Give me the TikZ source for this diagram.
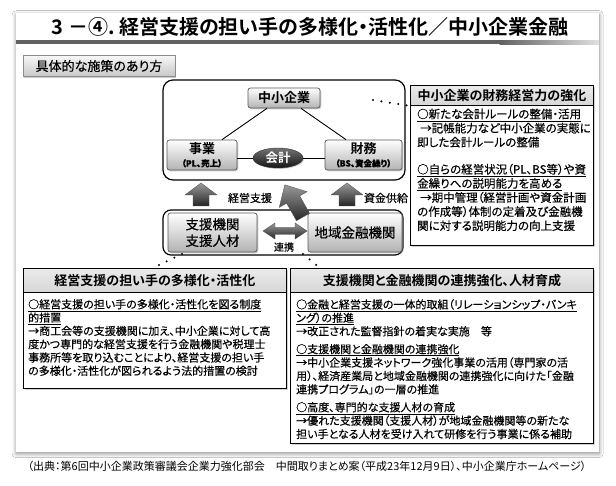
\documentclass[tikz,border=0pt]{standalone}
\usepackage{fontspec}
\setmainfont{Noto Sans CJK JP}[BoldFont={* Bold}, RawFeature=+palt]
\newfontfamily\medfont{Noto Sans CJK JP}[RawFeature=+palt, FakeBold=0.35]
\usetikzlibrary{shadows,shadows.blur,calc,shapes.geometric}
\tikzset{
  panel/.style={fill=white, draw=none, blur shadow={shadow blur steps=8, shadow xshift=0pt, shadow yshift=-1.5pt, shadow blur radius=4pt, shadow opacity=45}},
  gbox/.style={draw=black!65, line width=0.7pt, rounded corners=2.5pt, top color=white, bottom color=black!30, inner sep=1pt, drop shadow={shadow xshift=1.3pt, shadow yshift=-1.3pt, opacity=0.4}},
  rbox/.style={draw=black, line width=1.2pt, rounded corners=10pt, fill=white},
  tframe/.style={draw=black, line width=0.9pt, fill=white, anchor=north west, drop shadow={shadow xshift=1.2pt, shadow yshift=-1.2pt, opacity=0.35}},
  thdr/.style={draw=black, line width=0.9pt, top color=black!8, bottom color=black!16, anchor=north west, font=\fontsize{13}{15}\selectfont\bfseries},
  tbody/.style={anchor=north west, align=left, inner sep=0pt},
  arrowfill/.style={top color=black!40, bottom color=black!85, draw=black!70, line width=0.3pt},
  dotline/.style={line width=2.3pt, line cap=round, dash pattern=on 0pt off 8.5pt},
  lbl/.style={font=\fontsize{11}{13}\medfont},
}
\begin{document}
\begin{tikzpicture}[x=1pt,y=-1pt]
\useasboundingbox (0,0) rectangle (616,486);
\fill[white] (0,0) rectangle (616,486);
% panel
\node[panel, minimum width=583, minimum height=439, anchor=north west, inner sep=0] (panel) at (16,13) {};
% title
\node[font=\fontsize{20}{24}\selectfont\bfseries] (title) at (310,27) {3 －④.\ 経営支援の担い手の多様化・活性化／中小企業金融};
\fill[black!62] (16,40.5) rectangle (500,44.5);
\shade[left color=black!62, right color=black!12] (499.5,40.5) rectangle (599,44.5);
% label box
\node[gbox, rounded corners=0pt, draw=black!45, top color=black!3, bottom color=black!22, minimum width=152, minimum height=21, font=\fontsize{13}{15}\medfont] (gutai) at (99,66) {具体的な施策のあり方};
% central box
\node[rbox, minimum width=242, minimum height=100] (cbox) at (284,130) {};
\node[gbox, minimum width=72, minimum height=20, font=\fontsize{13}{15}\selectfont\bfseries] (zk) at (284,98) {中小企業};
\node[gbox, minimum width=70, minimum height=30, align=center, font=\fontsize{13}{14}\selectfont\bfseries] (jg) at (202,155) {事業\\[-1pt]{\fontsize{8.5}{10}\medfont （PL、売上）}};
\node[gbox, minimum width=77, minimum height=30, align=center, font=\fontsize{13}{14}\selectfont\bfseries] (zm) at (363.5,155) {財務\\[-1pt]{\fontsize{8.5}{10}\medfont （BS、資金繰り）}};
\node[ellipse, minimum width=50, minimum height=20, inner sep=0pt, top color=black!55, bottom color=black!92, draw=black!80, text=white, font=\fontsize{12.5}{14}\selectfont\bfseries, drop shadow={shadow xshift=1pt, shadow yshift=-1pt, opacity=0.35}] (kk) at (278,158) {会計};
\draw[line width=0.9pt] ([xshift=-17pt]zk.south) -- ([xshift=20pt]jg.north);
\draw[line width=0.9pt] ([xshift=17pt]zk.south) -- ([xshift=-17.5pt]zm.north);
\draw[line width=0.9pt] (jg.east |- kk.center) -- (kk.west);
\draw[line width=0.9pt] (kk.east) -- (zm.west |- kk.center);
% lower box
\node[rbox, rounded corners=8pt, minimum width=240, minimum height=45] (lowbox) at (283,232.5) {};
% diagonal arrow
\begin{scope}[shift={(303,217)}, rotate=119.4]
\path[arrowfill] (0,-7.5) -- (20,-7.5) -- (20,-16) -- (37,0) -- (20,16) -- (20,7.5) -- (0,7.5) -- cycle;
\end{scope}
\node[gbox, minimum width=89, minimum height=39, align=center, font=\fontsize{13.5}{16.5}\medfont] (sk) at (212.5,232.5) {支援機関\\支援人材};
\node[gbox, minimum width=94, minimum height=39, font=\fontsize{13.5}{16}\medfont] (cf) at (355,232.5) {地域金融機関};
% up arrows
\path[arrowfill] (193,206) -- (193,195) -- (185,195) -- (201,183) -- (217,195) -- (209,195) -- (209,206) -- cycle;
\path[arrowfill] (339,206) -- (339,195) -- (331,195) -- (347,183) -- (363,195) -- (355,195) -- (355,206) -- cycle;
% double arrow
\path[arrowfill] (263,231) -- (275,223) -- (275,227.5) -- (295,227.5) -- (295,223) -- (307,231) -- (295,239) -- (295,234.5) -- (275,234.5) -- (275,239) -- cycle;
\node[lbl] (keiei) at (250,198) {経営支援};
\node[lbl] (shikin) at (386,198) {資金供給};
\node[font=\fontsize{10}{12}\medfont] (renkei) at (284,247) {連携};
% right text box
\node[tframe, minimum width=183, minimum height=160] (rb) at (410,85) {};
\node[thdr, minimum width=183, minimum height=20] (rh) at (410,85) {中小企業の財務経営力の強化};
\node[tbody, font=\fontsize{11.5}{14.1}\medfont] (rt) at (417,108.5) {\underline{○新たな会計ルールの整備・活用}\\
\hspace*{3pt}→記帳能力など中小企業の実態に\\
即した会計ルールの整備\\[13pt]
\underline{○自らの経営状況（PL、BS等）や資}\\
\underline{金繰りへの説明能力を高める}\\
\hspace*{3pt}→期中管理（経営計画や資金計画\\
の作成等）体制の定着及び金融機\\
関に対する説明能力の向上支援};
% bottom left text box
\node[tframe, minimum width=263, minimum height=120] (lb) at (23,268) {};
\node[thdr, minimum width=263, minimum height=24] (lh) at (23,268) {経営支援の担い手の多様化・活性化};
\node[tbody, font=\fontsize{11}{13.3}\medfont] (lt) at (28,299) {\underline{○経営支援の担い手の多様化・活性化を図る制度}\\
\underline{的措置}\\
→商工会等の支援機関に加え、中小企業に対して高\\
度かつ専門的な経営支援を行う金融機関や税理士\\
事務所等を取り込むことにより、経営支援の担い手\\
の多様化・活性化が図られるよう法的措置の検討};
% bottom right text box
\node[tframe, minimum width=303, minimum height=175] (rbb) at (290,268) {};
\node[thdr, minimum width=303, minimum height=24] (rbh) at (290,268) {支援機関と金融機関の連携強化、人材育成};
\node[tbody, font=\fontsize{11}{13.4}\medfont] (rbt) at (296,299) {\underline{○金融と経営支援の一体的取組（リレーションシップ・バンキ}\\
\underline{ング）の推進}\\
→改正された監督指針の着実な実施　等\\[4.5pt]
\underline{○支援機関と金融機関の連携強化}\\
→中小企業支援ネットワーク強化事業の活用（専門家の活\\
用）、経済産業局と地域金融機関の連携強化に向けた「金融\\
連携プログラム」の一層の推進\\[4.5pt]
\underline{○高度、専門的な支援人材の育成}\\
→優れた支援機関（支援人材）が地域金融機関等の新たな\\
担い手となる人材を受け入れて研修を行う事業に係る補助};
% dotted connectors
\coordinate (d0) at (373,100);
\draw[dotline] (d0) -- (rh.south west);
\coordinate (d1) at (182,254);
\draw[dotline] (d1) -- ([xshift=-2pt]lh.north);
\coordinate (d2) at (303,254);
\draw[dotline] (d2) -- ([xshift=30pt]rbh.north west);
% footer
\node[font=\fontsize{11}{13}\selectfont] (footer) at (307,466) {（出典：第6回中小企業政策審議会企業力強化部会　中間取りまとめ案（平成23年12月9日）、中小企業庁ホームページ）};
\end{tikzpicture}
\end{document}
